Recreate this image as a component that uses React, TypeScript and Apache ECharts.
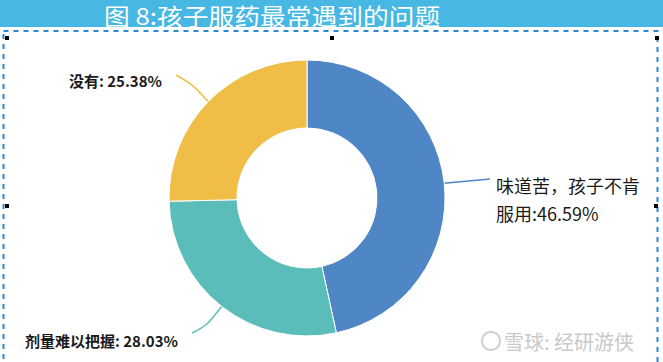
import React, { useEffect, useRef } from "react";
import * as echarts from "echarts";

const title = "图 8:孩子服药最常遇到的问题";
const categories = ["味道苦，孩子不肯\n服用", "剂量难以把握", "没有"];
const values = [46.59, 28.03, 25.38];
const colors = ["#4f86c6", "#5bbdb9", "#f0bd46"];
const separators = [":", ": ", ": "];

export default function App() {
  const ref = useRef<HTMLDivElement>(null);
  useEffect(() => {
    document.body.style.margin = "0";
    const chart = echarts.init(ref.current!, null, { renderer: "svg" });
    const labelSpecs: Record<number, any> = {
      0: { x: 496, y: 199, align: "left", line: [[490, 179]] },
      1: { x: 178, y: 340, align: "right", line: [[206, 326], [192, 333]] },
      2: { x: 162, y: 80, align: "right", line: [[192, 84], [176, 75]] },
    };
    const handles = [
      [7, 38], [332, 38], [657, 38], [7, 206], [656, 206],
    ];
    chart.setOption({
      animation: false,
      backgroundColor: "#ffffff",
      graphic: [
        { type: "rect", shape: { x: 0, y: 0, width: 663, height: 27 }, style: { fill: "#46b8e3" } },
        {
          type: "text", x: 104, y: 15, scaleX: 1.12,
          style: { text: title, fill: "#ffffff", font: "23px 'Noto Sans CJK SC'", verticalAlign: "middle", textAlign: "left" },
        },
        {
          type: "rect", shape: { x: 3.5, y: 31, width: 654, height: 360 },
          style: { fill: "none", stroke: "#2d86d2", lineWidth: 2, lineDash: [5, 5] },
        },
        ...handles.map((h) => ({
          type: "rect", shape: { x: h[0] - 2, y: h[1] - 2, width: 4, height: 4 }, style: { fill: "#000" },
        })),
        { type: "circle", shape: { cx: 491, cy: 341, r: 9 }, style: { fill: "none", stroke: "#cfcfcf", lineWidth: 2 } },
        {
          type: "text", x: 504, y: 341,
          style: { text: "雪球: 经研游侠", fill: "#c9c9c9", font: "20px 'Noto Sans CJK SC'", verticalAlign: "middle" },
        },
      ],
      series: [
        {
          type: "pie",
          center: [307, 198],
          radius: [70, 138],
          startAngle: 90,
          clockwise: true,
          itemStyle: { borderColor: "#ffffff", borderWidth: 1 },
          data: categories.map((c, i) => ({
            name: c,
            value: values[i],
            itemStyle: { color: colors[i] },
            label: i === 0
              ? { fontSize: 18, fontWeight: "normal", lineHeight: 28 }
              : { fontSize: 15, fontWeight: "bold" },
            labelLine: { lineStyle: { color: colors[i], width: 1.5 } },
          })),
          label: {
            show: true,
            color: "#1a1a1a",
            fontFamily: "'Noto Sans CJK SC'",
            formatter: (p: any) => p.name + separators[p.dataIndex] + values[p.dataIndex].toFixed(2) + "%",
          },
          labelLine: { show: true, smooth: 0.3, length: 15, length2: 15 },
          labelLayout: (params: any) => {
            const s = labelSpecs[params.dataIndex];
            const pts = params.labelLinePoints;
            const start = pts && pts[0] ? pts[0] : s.line[0];
            return {
              x: s.x,
              y: s.y,
              align: s.align,
              verticalAlign: "middle",
              labelLinePoints: s.line.length === 1 ? [start, s.line[0], s.line[0]] : [start, ...s.line],
            };
          },
        },
      ],
    });
    return () => chart.dispose();
  }, []);
  return <div ref={ref} style={{ position: "fixed", left: 0, top: 0, width: 663, height: 362 }} />;
}
